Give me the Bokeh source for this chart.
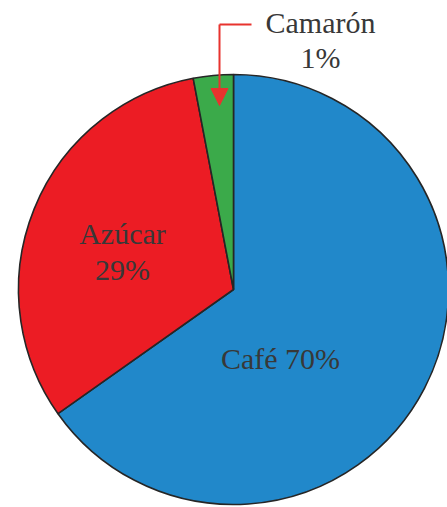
import numpy as np
from bokeh.plotting import figure
from bokeh.models import Range1d, Arrow, NormalHead
from bokeh.core.properties import value
from bokeh.embed import file_html
from bokeh.resources import INLINE

# Data (shares as drawn in the picture, labels as printed)
categories = ["Café", "Azúcar", "Camarón"]
shares = [65.2, 31.8, 3.0]
colors = ["#2188CA", "#EC1C24", "#3BAA4A"]

W, H = 447, 507

def px(x):
    return x

def py(y):
    return H - y

p = figure(width=W, height=H, output_backend="svg", toolbar_location=None,
           x_range=Range1d(0, W), y_range=Range1d(0, H),
           min_border=0, outline_line_color=None)
p.axis.visible = False
p.grid.visible = False
p.background_fill_color = "white"
p.border_fill_color = "white"

cx, cy, r = px(233), py(289), 215

fr = np.array(shares) / sum(shares)
cum = np.concatenate([[0], np.cumsum(fr)])
starts = np.pi / 2 - cum[1:] * 2 * np.pi
ends = np.pi / 2 - cum[:-1] * 2 * np.pi

p.wedge(x=[cx] * 3, y=[cy] * 3, radius=r, start_angle=starts, end_angle=ends,
        direction="anticlock", fill_color=colors, line_color="#262626", line_width=1.6)

font = value("Liberation Serif")
tc = "#383838"
fs = "30px"

# Café label
p.text(x=[px(280)], y=[py(358)], text=["Café 70%"], text_font=font, text_font_size=fs,
       text_color=tc, text_align="center", text_baseline="middle")
# Azúcar label
p.text(x=[px(122), px(122)], y=[py(233), py(269)], text=["Azúcar", "29%"], text_font=font,
       text_font_size=fs, text_color=tc, text_align="center", text_baseline="middle")
# Camarón label
p.text(x=[px(320), px(320)], y=[py(22), py(57)], text=["Camarón", "1%"], text_font=font,
       text_font_size=fs, text_color=tc, text_align="center", text_baseline="middle")

# Callout arrow
ac = "#E8332E"
p.line(x=[px(251), px(219)], y=[py(24), py(24)], line_color=ac, line_width=2)
p.add_layout(Arrow(end=NormalHead(size=17, fill_color=ac, line_color=ac, line_width=1),
                   x_start=px(219), y_start=py(24), x_end=px(219), y_end=py(105),
                   line_color=ac, line_width=2))

open("out.html", "w").write(file_html(p, INLINE))
